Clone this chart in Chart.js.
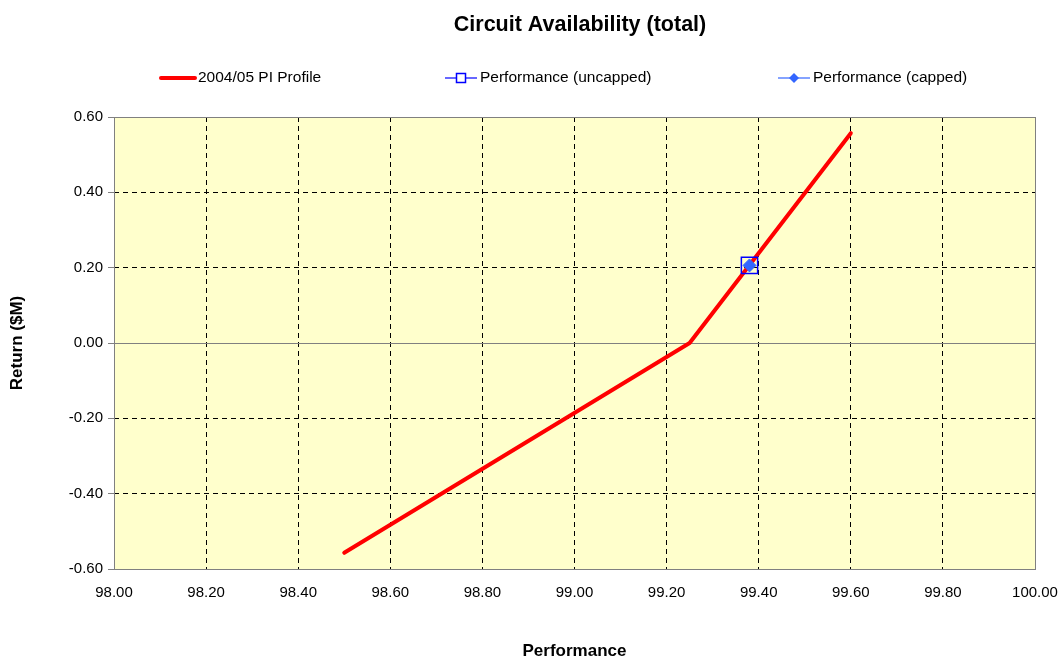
<!DOCTYPE html>
<html>
<head>
<meta charset="utf-8">
<title>Circuit Availability (total)</title>
<script src="https://cdn.jsdelivr.net/npm/chart.js@4/dist/chart.umd.min.js"></script>
<style>
  html, body { margin: 0; padding: 0; background: #fff; }
  canvas { display: block; }
</style>
</head>
<body>
<canvas id="chart" width="1061" height="660"></canvas>
<script>
// data
const chartTitle = 'Circuit Availability (total)';
const seriesNames = ['2004/05 PI Profile', 'Performance (uncapped)', 'Performance (capped)'];
const profileX = [98.50, 99.25, 99.60];
const profileY = [-0.557, 0.00, 0.557];
const uncappedX = [99.38];
const uncappedY = [0.206];
const cappedX = [99.38];
const cappedY = [0.206];
const xTicks = [98.0, 98.2, 98.4, 98.6, 98.8, 99.0, 99.2, 99.4, 99.6, 99.8, 100.0];
const yTicks = [-0.6, -0.4, -0.2, 0.0, 0.2, 0.4, 0.6];

const FONT = "'Liberation Sans', Arial, sans-serif";
Chart.defaults.font.family = FONT;
Chart.defaults.color = '#000';

const pts = (xs, ys) => xs.map((x, i) => ({ x, y: ys[i] }));

// fond jaune, ligne du zero, cadre
const plotFrame = {
    id: 'plotFrame',
    beforeDraw(chart) {
        const { ctx, chartArea: a } = chart;
        ctx.save();
        ctx.fillStyle = '#FFFFCC';
        ctx.fillRect(a.left, a.top, a.width, a.height);
        ctx.restore();
    },
    beforeDatasetsDraw(chart) {
        const { ctx, chartArea: a, scales } = chart;
        const y0 = Math.round(scales.y.getPixelForValue(0)) + 0.5;
        ctx.save();
        ctx.strokeStyle = '#808080';
        ctx.lineWidth = 1;
        ctx.beginPath();
        ctx.moveTo(a.left, y0);
        ctx.lineTo(a.right, y0);
        ctx.stroke();
        ctx.strokeRect(Math.round(a.left) + 0.5, Math.round(a.top) + 0.5,
            Math.round(a.width), Math.round(a.height));
        ctx.restore();
    },
};

// titre + legende a la maniere Excel
const excelHeader = {
    id: 'excelHeader',
    afterDraw(chart) {
        const { ctx } = chart;
        const ds = chart.data.datasets;
        ctx.save();
        ctx.fillStyle = '#000';
        ctx.textBaseline = 'middle';
        ctx.textAlign = 'center';
        ctx.font = 'bold 21.5px ' + FONT;
        ctx.fillText(chartTitle, 580, 25);

        const ly = 78;
        const items = [[161, 195], [445, 477], [778, 810]];
        ctx.textAlign = 'left';
        ctx.font = '15.5px ' + FONT;
        items.forEach(([x1, x2], i) => {
            const d = ds[i];
            ctx.strokeStyle = d.borderColor;
            ctx.lineWidth = i === 0 ? 4 : 1.2;
            ctx.lineCap = i === 0 ? 'round' : 'butt';
            ctx.beginPath();
            ctx.moveTo(x1, ly);
            ctx.lineTo(x2, ly);
            ctx.stroke();
            const cx = (x1 + x2) / 2;
            if (i === 1) {
                ctx.fillStyle = '#FFFFFF';
                ctx.fillRect(cx - 4.5, ly - 4.5, 9, 9);
                ctx.lineWidth = 1.5;
                ctx.strokeRect(cx - 4.5, ly - 4.5, 9, 9);
            } else if (i === 2) {
                ctx.fillStyle = d.backgroundColor;
                ctx.beginPath();
                ctx.moveTo(cx, ly - 5);
                ctx.lineTo(cx + 5, ly);
                ctx.lineTo(cx, ly + 5);
                ctx.lineTo(cx - 5, ly);
                ctx.closePath();
                ctx.fill();
            }
            ctx.fillStyle = '#000';
            ctx.fillText(d.label, x2 + 3, ly);
        });
        ctx.restore();
    },
};

new Chart(document.getElementById('chart'), {
    type: 'scatter',
    data: {
        datasets: [
            {
                label: seriesNames[0],
                data: pts(profileX, profileY),
                showLine: true,
                borderColor: '#FF0000',
                borderWidth: 4,
                borderCapStyle: 'round',
                borderJoinStyle: 'round',
                pointRadius: 0,
                order: 2,
            },
            {
                label: seriesNames[1],
                data: pts(uncappedX, uncappedY),
                borderColor: '#0000FF',
                backgroundColor: 'rgba(0,0,0,0)',
                borderWidth: 1.5,
                pointStyle: 'rect',
                pointRadius: 11.5,
                order: 1,
            },
            {
                label: seriesNames[2],
                data: pts(cappedX, cappedY),
                borderColor: '#3366FF',
                backgroundColor: '#3366FF',
                borderWidth: 1,
                pointStyle: 'rectRot',
                pointRadius: 6.5,
                order: 0,
            },
        ],
    },
    options: {
        responsive: false,
        animation: false,
        layout: { padding: { top: 117, right: 26, bottom: 0, left: 0 } },
        plugins: {
            legend: { display: false },
            title: { display: false },
            tooltip: { enabled: false },
        },
        scales: {
            x: {
                type: 'linear',
                min: xTicks[0],
                max: xTicks[xTicks.length - 1],
                afterBuildTicks: s => { s.ticks = xTicks.map(v => ({ value: v })); },
                afterFit: s => { s.height = 91; s.paddingLeft = 0; s.paddingRight = 0; },
                ticks: {
                    padding: 15,
                    font: { size: 15 },
                    color: '#000',
                    callback: v => v.toFixed(2),
                },
                grid: { color: '#000', lineWidth: 1, drawTicks: false },
                border: { display: false, dash: [5, 4] },
                title: {
                    display: true,
                    text: 'Performance',
                    font: { size: 17, weight: 'bold', lineHeight: 1 },
                    color: '#000',
                    padding: 0,
                },
            },
            y: {
                type: 'linear',
                min: yTicks[0],
                max: yTicks[yTicks.length - 1],
                afterBuildTicks: s => { s.ticks = yTicks.map(v => ({ value: v })); },
                afterFit: s => { s.width = 114; },
                ticks: {
                    padding: 5,
                    font: { size: 15 },
                    color: '#000',
                    callback: v => v.toFixed(2),
                },
                grid: {
                    color: c => (c.tick && Math.abs(c.tick.value) < 1e-9 ? 'rgba(0,0,0,0)' : '#000'),
                    lineWidth: 1,
                    tickLength: 6,
                    tickColor: '#808080',
                    tickBorderDash: [],
                },
                border: { display: false, dash: [5, 4] },
                title: {
                    display: true,
                    text: 'Return ($M)',
                    font: { size: 17, weight: 'bold', lineHeight: 1.2 },
                    color: '#000',
                    padding: { top: 7, bottom: 0 },
                },
            },
        },
    },
    plugins: [plotFrame, excelHeader],
});
</script>
</body>
</html>
